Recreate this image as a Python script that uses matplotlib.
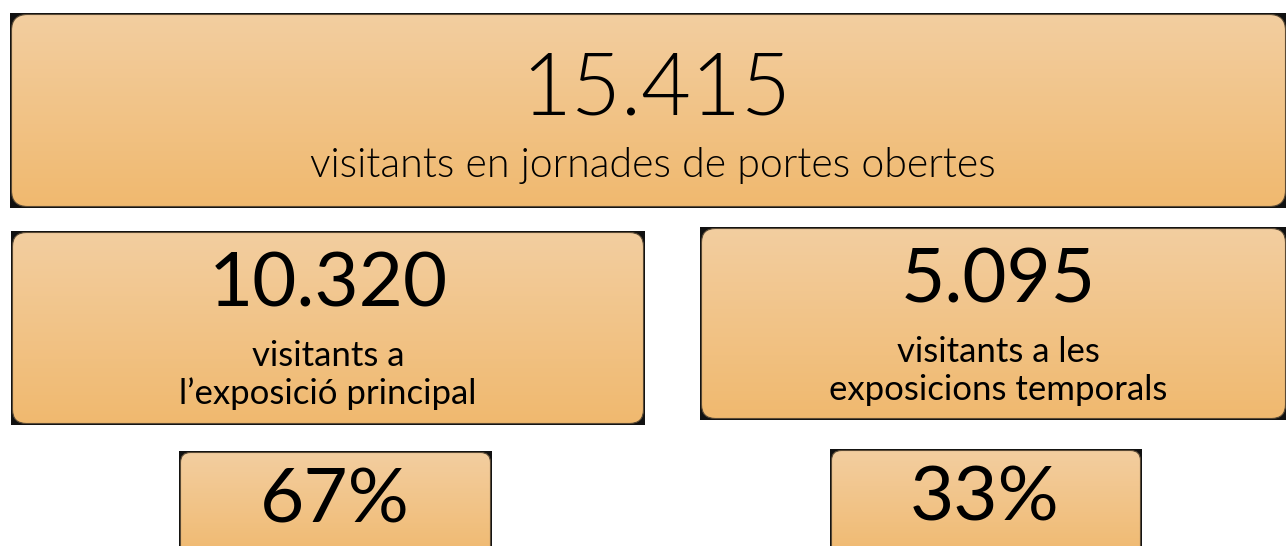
import numpy as np
import matplotlib
matplotlib.use("Agg")
import matplotlib.pyplot as plt
from matplotlib.patches import FancyBboxPatch, Rectangle
from matplotlib.colors import LinearSegmentedColormap

# Data
total_value = "15.415"
total_label = "visitants en jornades de portes obertes"
part_values = ["10.320", "5.095"]
part_labels = ["visitants a\nl\u2019exposició principal", "visitants a les\nexposicions temporals"]
shares = ["67%", "33%"]

W, H = 1286, 546
fig = plt.figure(figsize=(W / 100, H / 100), dpi=100)
ax = fig.add_axes([0, 0, 1, 1])
ax.set_xlim(0, W)
ax.set_ylim(H, 0)
ax.axis("off")

cmap = LinearSegmentedColormap.from_list("g", ["#F3CEA0", "#F0B96F"])
grad = np.linspace(0, 1, 256).reshape(-1, 1)


def box(x0, y0, x1, y1, r=14):
    ax.add_patch(Rectangle((x0, y0), x1 - x0, y1 - y0, facecolor="#111111",
                           edgecolor="none", zorder=1))
    p = FancyBboxPatch((x0 + 1.5, y0 + 1.5), x1 - x0 - 3, y1 - y0 - 3,
                       boxstyle=f"round,pad=0,rounding_size={r}",
                       facecolor="none", edgecolor="#5a4a35", linewidth=0.8, zorder=3)
    ax.add_patch(p)
    im = ax.imshow(grad, cmap=cmap, extent=(x0 + 1.5, x1 - 1.5, y1 - 1.5, y0 + 1.5),
                   aspect="auto", zorder=2, interpolation="bilinear")
    im.set_clip_path(p)
    ax.set_xlim(0, W)
    ax.set_ylim(H, 0)


box(10, 13, 1287, 208, r=16)
box(11, 231, 645, 425)
box(700, 227, 1287, 420)
box(179, 451, 492, 560, r=10)
box(830, 449, 1142, 560, r=10)

top = dict(family="Lato", fontweight=300, color="black", ha="center", va="center")
body = dict(family="Lato", color="black", ha="center", va="center")

ax.text(656, 90, total_value, fontsize=62, zorder=5, **top)
ax.text(653, 165, total_label, fontsize=29.5, zorder=5, **top)

ax.text(328, 285, part_values[0], fontsize=55, zorder=5, **body)
ax.text(998, 281, part_values[1], fontsize=55, zorder=5, **body)
ax.text(328, 375, part_labels[0], fontsize=25, zorder=5, linespacing=1.2, **body)
ax.text(998, 371, part_labels[1], fontsize=25, zorder=5, linespacing=1.2, **body)

ax.text(335, 501, shares[0], fontsize=55, zorder=5, **body)
ax.text(985, 499, shares[1], fontsize=55, zorder=5, **body)

fig.savefig("out.png", dpi=100)
